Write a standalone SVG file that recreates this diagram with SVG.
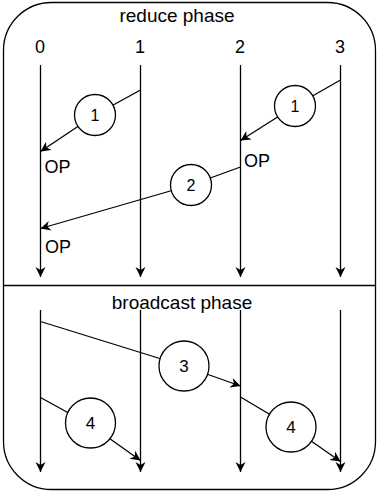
<svg xmlns="http://www.w3.org/2000/svg" width="378" height="492" viewBox="0 0 378 492">
  <defs>
    <marker id="arrow" markerUnits="userSpaceOnUse" markerWidth="12" markerHeight="12" viewBox="-11 -6 12 12" refX="0" refY="0" orient="auto">
      <path d="M0,0 L-10,-5 L-7,0 L-10,5 Z" fill="#000"/>
    </marker>
  </defs>
  <style>
    .frame { fill: #fff; stroke: #000; stroke-width: 1.3; }
    .line { fill: none; stroke: #000; stroke-width: 1.3; }
    .arr { marker-end: url(#arrow); }
    .node circle { fill: #fff; stroke: #000; stroke-width: 1.3; }
    text { font-family: "Liberation Sans", Arial, sans-serif; fill: #000; }
    .title { font-size: 19px; text-anchor: middle; }
    .rank { font-size: 18px; text-anchor: middle; }
    .op { font-size: 18px; }
    .num { font-size: 16px; text-anchor: middle; }
    .big .num { font-size: 17px; }
  </style>

  <!-- outer frame and phase divider -->
  <g id="frame">
    <rect class="frame" x="3.5" y="2.5" width="372" height="487" rx="48" ry="48"/>
    <line class="line" x1="3.5" y1="285.5" x2="375.5" y2="285.5"/>
    <text class="title" x="177" y="22">reduce phase</text>
    <text class="title" x="182" y="309">broadcast phase</text>
  </g>

  <!-- rank labels -->
  <g id="ranks">
    <text class="rank" x="40" y="53">0</text>
    <text class="rank" x="140" y="53">1</text>
    <text class="rank" x="240" y="53">2</text>
    <text class="rank" x="340" y="53">3</text>
  </g>

  <g id="connectors">
    <!-- process timelines, reduce phase -->
    <line class="line arr" x1="40.5" y1="65" x2="40.5" y2="277"/>
    <line class="line arr" x1="140.5" y1="65" x2="140.5" y2="277"/>
    <line class="line arr" x1="240.5" y1="65" x2="240.5" y2="277"/>
    <line class="line arr" x1="340.5" y1="65" x2="340.5" y2="277"/>
    <!-- process timelines, broadcast phase -->
    <line class="line arr" x1="40.5" y1="310" x2="40.5" y2="472"/>
    <line class="line arr" x1="140.5" y1="310" x2="140.5" y2="472"/>
    <line class="line arr" x1="240.5" y1="310" x2="240.5" y2="472"/>
    <line class="line arr" x1="340.5" y1="310" x2="340.5" y2="472"/>

    <!-- step 1: 1 -> 0 and 3 -> 2 -->
    <line class="line" x1="140.5" y1="90" x2="95" y2="115"/>
    <line class="line arr" x1="95" y1="115" x2="40.5" y2="151.5"/>
    <line class="line" x1="340.5" y1="80" x2="295" y2="106"/>
    <line class="line arr" x1="295" y1="106" x2="240.5" y2="140.5"/>
    <!-- step 2: 2 -> 0 -->
    <line class="line" x1="240.5" y1="167" x2="191" y2="185"/>
    <line class="line arr" x1="191" y1="185" x2="40.5" y2="228.5"/>
    <!-- step 3: 0 -> 2 -->
    <line class="line" x1="40.5" y1="321.5" x2="184" y2="366"/>
    <line class="line arr" x1="184" y1="366" x2="240.5" y2="386"/>
    <!-- step 4: 0 -> 1 and 2 -> 3 -->
    <line class="line" x1="40.5" y1="397.5" x2="90.5" y2="425"/>
    <line class="line arr" x1="90.5" y1="425" x2="140.5" y2="460.5"/>
    <line class="line" x1="240.5" y1="397" x2="291" y2="427"/>
    <line class="line arr" x1="291" y1="427" x2="340.5" y2="461.5"/>
  </g>

  <!-- OP labels -->
  <g id="op-labels">
    <text class="op" x="44.5" y="173">OP</text>
    <text class="op" x="244" y="166.5">OP</text>
    <text class="op" x="45" y="253">OP</text>
  </g>

  <!-- step markers -->
  <g id="step1-left" class="node"><circle cx="95" cy="115" r="20.5"/><text class="num" x="95" y="121">1</text></g>
  <g id="step1-right" class="node"><circle cx="295" cy="106" r="20.5"/><text class="num" x="295" y="112">1</text></g>
  <g id="step2" class="node"><circle cx="191" cy="185" r="20.5"/><text class="num" x="191" y="191">2</text></g>
  <g id="step3" class="node big"><circle cx="184" cy="366" r="25"/><text class="num" x="184" y="372">3</text></g>
  <g id="step4-left" class="node big"><circle cx="90.5" cy="423" r="25"/><text class="num" x="90.5" y="429">4</text></g>
  <g id="step4-right" class="node big"><circle cx="291" cy="427" r="25"/><text class="num" x="291" y="433">4</text></g>
</svg>
